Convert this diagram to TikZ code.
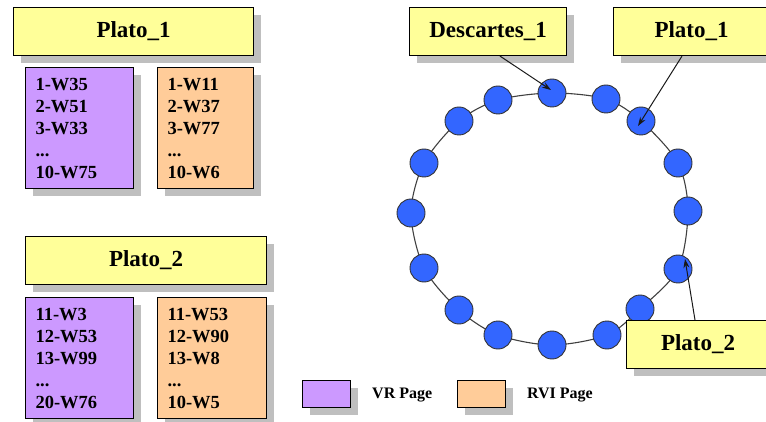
\documentclass[tikz,border=0pt]{standalone}
\usepackage{fontspec}
\setmainfont{Liberation Serif}
\usetikzlibrary{positioning, shadows, arrows.meta, calc}

\definecolor{notecol}{HTML}{FFFF99}
\definecolor{vrcol}{HTML}{CC99FF}
\definecolor{rvicol}{HTML}{FFCC99}
\definecolor{disccol}{HTML}{3366FF}

\tikzset{
  shadebox/.style={draw=black, line width=1.1pt,
    drop shadow={shadow xshift=7pt, shadow yshift=-7pt, fill=black!25, opacity=1}},
  titlebox/.style={shadebox, fill=notecol, anchor=north west, minimum height=48pt,
    font=\fontsize{23}{26}\selectfont\bfseries},
  pagebox/.style={shadebox, anchor=north west, minimum height=121pt, inner xsep=10pt,
    align=left, font=\fontsize{18.5}{22}\selectfont\bfseries},
  keybox/.style={shadebox, anchor=north west, minimum width=48pt, minimum height=27pt},
  keytext/.style={anchor=west, inner sep=0pt, font=\fontsize{16}{18}\selectfont\bfseries},
  disc/.style={circle, draw=black!80, line width=0.9pt, fill=disccol, minimum size=28pt, inner sep=0pt},
  ring/.style={draw=black!75, line width=1.1pt},
  pointer/.style={draw=black!90, line width=1pt, -{Stealth[length=9pt, width=6pt]}},
}

\begin{document}
\begin{tikzpicture}[x=1pt, y=-1pt]
    \clip (0,0) rectangle (766,422);

    % Plato 1 and its pages
    \node[titlebox, minimum width=240pt] (platoA) at (13,7) {Plato\_1};
    \node[pagebox, fill=vrcol, text width=88pt] (vrA) at (25,67) {1-W35\\2-W51\\3-W33\\...\\10-W75};
    \node[pagebox, fill=rvicol, text width=76pt] (rviA) at (157,67) {1-W11\\2-W37\\3-W77\\...\\10-W6};

    % Plato 2 and its pages
    \node[titlebox, minimum width=241pt] (platoB) at (25,236) {Plato\_2};
    \node[pagebox, fill=vrcol, text width=88pt] (vrB) at (25,297) {11-W3\\12-W53\\13-W99\\...\\20-W76};
    \node[pagebox, fill=rvicol, text width=89pt] (rviB) at (157,297) {11-W53\\12-W90\\13-W8\\...\\10-W5};

    % Ring of discs
    \foreach \i/\x/\y in {1/552/93, 2/606/99, 3/641/121, 4/678/163, 5/688/211, 6/678/269,
                          7/640/309, 8/607/335, 9/552/345, 10/498/335, 11/459/310, 12/424/268,
                          13/411/213, 14/424/163, 15/459/121, 16/498/100} {
      \coordinate (p\i) at (\x,\y);
    }
    \draw[ring] plot[smooth cycle] coordinates {(p1) (p2) (p3) (p4) (p5) (p6) (p7) (p8)
                                                (p9) (p10) (p11) (p12) (p13) (p14) (p15) (p16)};
    \foreach \i in {1,...,16} {
      \node[disc] (d\i) at (p\i) {};
    }

    % Labels on the ring
    \node[titlebox, minimum width=157pt] (desc) at (409,7) {Descartes\_1};
    \node[titlebox, minimum width=156pt] (ringA) at (613,7) {Plato\_1};
    \node[titlebox, minimum width=143pt] (ringB) at (626,320) {Plato\_2};

    \draw[pointer] ($(desc.south west)+(91,0)$) -- ($(d1.center)+(-1,-3)$);
    \draw[pointer] ($(ringA.south west)+(69,0)$) -- ($(d3.center)+(-3,5)$);
    \draw[pointer] ($(ringB.north west)+(69,0)$) -- ($(d6.center)+(7,-10)$);

    % Legend
    \node[keybox, fill=vrcol] (keyvr) at (302,380) {};
    \node[keytext] (keyvrtext) at (372,395) {VR Page};
    \node[keybox, fill=rvicol] (keyrvi) at (457,380) {};
    \node[keytext] (keyrvitext) at (527,395) {RVI Page};
\end{tikzpicture}
\end{document}
